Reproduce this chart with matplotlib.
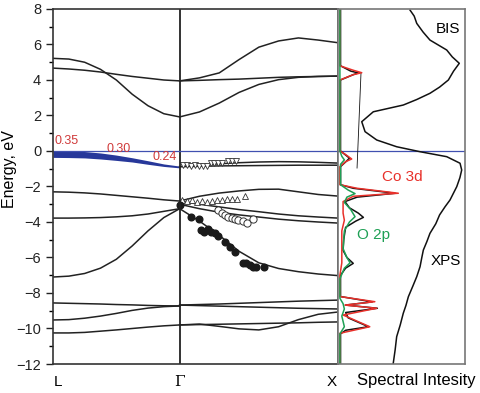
import numpy as np
import matplotlib
matplotlib.use("Agg")
from matplotlib import pyplot as plt

plt.rcParams['font.family'] = ['Liberation Sans', 'DejaVu Sans']

# k-path: L -> Gamma -> X
k_L, k_G, k_X = 0.0, 0.8, 1.8
t = np.linspace(0, 1, 9)

# bands along L-Gamma (energies in eV at the 9 grid points)
bands_LG = [
    [5.22, 5.18, 5.0, 4.6, 4.0, 3.2, 2.55, 2.1, 1.92],
    [4.67, 4.62, 4.55, 4.45, 4.32, 4.2, 4.1, 4.0, 3.95],
    [-2.3, -2.32, -2.36, -2.42, -2.5, -2.58, -2.66, -2.75, -2.82],
    [-3.78, -3.78, -3.77, -3.75, -3.71, -3.65, -3.55, -3.4, -3.25],
    [-7.1, -7.05, -6.9, -6.6, -6.1, -5.35, -4.5, -3.75, -3.25],
    [-8.56, -8.58, -8.6, -8.62, -8.65, -8.67, -8.7, -8.72, -8.73],
    [-9.52, -9.5, -9.42, -9.3, -9.15, -8.98, -8.85, -8.77, -8.73],
    [-10.25, -10.25, -10.22, -10.15, -10.08, -10.0, -9.92, -9.85, -9.8],
]
# weighted top valence band (L-Gamma)
blue_center = [-0.17, -0.18, -0.21, -0.28, -0.38, -0.5, -0.65, -0.8, -0.9]
blue_half = [0.19, 0.19, 0.18, 0.17, 0.15, 0.12, 0.1, 0.07, 0.05]
weight_labels = ['0.35', '0.30', '0.24']
weight_pos = [(0.008, 0.22), (0.34, -0.22), (0.63, -0.66)]

# bands along Gamma-X
bands_GX = [
    [3.95, 4.12, 4.4, 5.15, 5.85, 6.2, 6.37, 6.25, 6.1],
    [3.95, 3.98, 4.02, 4.05, 4.1, 4.15, 4.18, 4.2, 4.22],
    [1.92, 2.2, 2.7, 3.3, 3.75, 4.02, 4.15, 4.2, 4.22],
    [-0.88, -0.8, -0.72, -0.66, -0.62, -0.6, -0.61, -0.64, -0.68],
    [-0.88, -0.86, -0.84, -0.83, -0.82, -0.81, -0.8, -0.8, -0.8],
    [-2.82, -2.55, -2.37, -2.25, -2.16, -2.15, -2.3, -2.45, -2.54],
    [-2.82, -3.0, -3.15, -3.3, -3.42, -3.55, -3.65, -3.72, -3.78],
    [-3.0, -3.25, -3.45, -3.6, -3.72, -3.84, -3.93, -4.0, -4.06],
    [-3.25, -3.95, -4.75, -5.65, -6.3, -6.62, -6.8, -6.93, -7.02],
    [-8.68, -8.65, -8.62, -8.58, -8.54, -8.5, -8.46, -8.43, -8.4],
    [-8.68, -8.71, -8.74, -8.77, -8.8, -8.83, -8.86, -8.88, -8.9],
    [-9.8, -9.75, -9.88, -10.02, -10.08, -9.9, -9.5, -9.2, -9.07],
    [-9.8, -9.78, -9.76, -9.74, -9.72, -9.7, -9.68, -9.65, -9.63],
]

# ARPES points
tri_down_k = [0.819, 0.844, 0.870, 0.895, 0.920, 0.946, 0.971, 0.996, 1.015,
              1.041, 1.066, 1.104, 1.129, 1.154]
tri_down_E = [-0.8, -0.8, -0.82, -0.8, -0.84, -0.84, -0.82, -0.68, -0.66,
              -0.68, -0.66, -0.56, -0.58, -0.56]
tri_up_k = [0.813, 0.844, 0.876, 0.908, 0.939, 0.971, 1.003, 1.034, 1.066,
            1.097, 1.129, 1.161, 1.211]
tri_up_E = [-2.78, -2.8, -2.76, -2.86, -2.82, -2.86, -2.82, -2.76, -2.76,
            -2.7, -2.7, -2.7, -2.52]
open_k = [1.041, 1.066, 1.085, 1.104, 1.129, 1.148, 1.167, 1.199, 1.224, 1.262]
open_E = [-3.32, -3.47, -3.6, -3.73, -3.78, -3.84, -3.89, -3.93, -4.04, -3.84]
full_k = [0.804, 0.874, 0.922, 0.937, 0.952, 0.979, 1.001, 1.022, 1.042,
          1.085, 1.116, 1.148, 1.201, 1.222, 1.243, 1.264, 1.285, 1.332]
full_E = [-3.04, -3.74, -3.85, -4.45, -4.55, -4.41, -4.55, -4.64, -4.79,
          -5.11, -5.39, -5.67, -6.29, -6.33, -6.42, -6.52, -6.55, -6.52]

# spectral panel: (energy, intensity fraction)
tot_E = [8, 4.8, 4.5, 4.4, 4.3, 4.0, 0.0, -0.4, -0.55, -0.88, -1.9, -2.1, -2.38,
         -2.6, -2.85, -3.2, -3.5, -3.74, -3.95, -4.3, -5.0, -5.6, -6.0, -6.33,
         -6.6, -7.0, -8.2, -8.5, -8.68, -8.86, -9.1, -9.4, -9.9, -10.1, -10.3, -12]
tot_I = [0.02, 0.02, 0.1, 0.16, 0.12, 0.02, 0.02, 0.09, 0.07, 0.02, 0.02, 0.12,
         0.45, 0.15, 0.055, 0.09, 0.16, 0.2, 0.14, 0.06, 0.045, 0.04, 0.07, 0.12,
         0.06, 0.02, 0.02, 0.27, 0.06, 0.31, 0.06, 0.08, 0.24, 0.06, 0.02, 0.02]
co_E = [8, 4.8, 4.55, 4.41, 4.3, 4.0, 0, -0.2, -0.45, -0.6, -0.88, -1.9, -2.1,
        -2.38, -2.55, -2.85, -3.5, -3.9, -4.5, -6.3, -7, -8.2, -8.49, -8.68,
        -8.86, -9.24, -9.9, -10.27, -12]
co_I = [0.015, 0.015, 0.12, 0.187, 0.12, 0.015, 0.015, 0.06, 0.108, 0.06, 0.015,
        0.015, 0.15, 0.475, 0.12, 0.04, 0.04, 0.05, 0.03, 0.03, 0.015, 0.015,
        0.29, 0.055, 0.305, 0.04, 0.25, 0.015, 0.015]
o_E = [8, 0, -0.3, -0.5, -0.75, -1.9, -2.2, -2.4, -2.6, -2.9, -3.3, -3.7, -4.0,
       -4.5, -5.5, -6.0, -6.3, -6.6, -7.2, -8.3, -8.6, -8.9, -9.3, -9.9, -10.3, -12]
o_I = [0.015, 0.015, 0.03, 0.05, 0.02, 0.02, 0.08, 0.134, 0.07, 0.05, 0.1, 0.134,
       0.09, 0.05, 0.04, 0.07, 0.095, 0.05, 0.015, 0.015, 0.04, 0.05, 0.03, 0.05,
       0.015, 0.015]
exp_E = [7.94, 7.6, 7.19, 6.7, 6.25, 5.69, 5.3, 4.94, 4.5, 4.0, 3.6, 3.25, 2.9,
         2.59, 2.21, 1.65, 1.09, 0.62, 0.24, -0.04, -0.32, -0.69, -1.07, -1.5,
         -2.01, -2.76, -3.14, -3.6, -4.1, -4.64, -5.1, -5.58, -6.0, -6.52, -7.08,
         -7.6, -8.21, -8.7, -9.14, -9.8, -10.46, -11.2, -11.96]
exp_I = [0.567, 0.6, 0.62, 0.67, 0.724, 0.856, 0.9, 0.955, 0.91, 0.869, 0.8,
         0.724, 0.62, 0.514, 0.278, 0.187, 0.213, 0.305, 0.462, 0.646, 0.856,
         0.961, 0.974, 0.96, 0.935, 0.882, 0.843, 0.8, 0.77, 0.724, 0.7, 0.672,
         0.66, 0.646, 0.62, 0.59, 0.554, 0.535, 0.514, 0.49, 0.462, 0.45, 0.435]
thin_E = [4.39, -0.96]
thin_I = [0.181, 0.15]

red = '#e8302a'
green = '#1fa055'
navy = '#27389a'

fig = plt.figure(figsize=(4.81, 3.93), dpi=100)
ax = fig.add_axes([53/481, 1-364/393, 285/481, 355/393])
ax2 = fig.add_axes([338/481, 1-364/393, 127/481, 355/393])

k_LG = k_L + t*(k_G - k_L)
k_GX = k_G + t*(k_X - k_G)
for b in bands_LG:
    ax.plot(k_LG, b, color='#222222', lw=1.1)
for b in bands_GX:
    ax.plot(k_GX, b, color='#222222', lw=1.1)

c = np.array(blue_center)
h = np.array(blue_half)
ax.fill_between(k_LG, c - h, c + h, color=navy, lw=0)
for lab, (x, y) in zip(weight_labels, weight_pos):
    ax.text(x, y, lab, color='#d03a3a', fontsize=9, va='bottom', ha='left')

ax.plot(tri_down_k, tri_down_E, 'v', ms=4, mfc='white', mec='#333333', mew=0.6)
ax.plot(tri_up_k, tri_up_E, '^', ms=5, mfc='white', mec='#333333', mew=0.6)
ax.plot(open_k, open_E, 'o', ms=5.2, mfc='white', mec='#333333', mew=0.7)
ax.plot(full_k, full_E, 'o', ms=4.8, color='#1a1a1a')

ax.axvline(k_G, color='#222222', lw=1.3)
ax.axhline(0, color='#4050b0', lw=0.9)
ax.set_xlim(k_L, k_X)
ax.set_ylim(-12, 8)
ax.set_yticks(np.arange(-12, 9, 2))
ax.set_yticks(np.arange(-11, 8, 2), minor=True)
ax.tick_params(axis='y', which='major', length=5, width=1, labelsize=10.5, colors='#222222')
ax.tick_params(axis='y', which='minor', length=3, width=1)
ax.set_xticks([k_L + 0.03, k_G, k_X - 0.04])
ax.set_xticklabels(['L', 'Γ', 'X'], fontsize=11)
ax.get_xticklabels()[1].set_family('DejaVu Serif')
ax.tick_params(axis='x', length=0, pad=8)
ax.set_ylabel('Energy, eV', fontsize=11.5)
ax.yaxis.set_label_coords(-0.125, 0.55)
for s in ax.spines.values():
    s.set_color('#333333')
    s.set_linewidth(1.2)

ax2.axhline(0, color='#4050b0', lw=0.9)
ax2.plot(exp_I, exp_E, color='#111111', lw=1.1)
ax2.plot(thin_I, thin_E, color='#111111', lw=0.6)
ax2.plot(tot_I, tot_E, color='#111111', lw=1.1)
ax2.plot(co_I, co_E, color=red, lw=1.1)
ax2.plot(o_I, o_E, color=green, lw=1.1)
ax2.set_xlim(0, 1)
ax2.set_ylim(-12, 8)
ax2.set_xticks([])
ax2.set_yticks([])
for s in ax2.spines.values():
    s.set_color('#777777')
    s.set_linewidth(1.2)
ax2.text(0.96, 6.9, 'BIS', fontsize=11, ha='right', va='center')
ax2.text(0.35, -1.45, 'Co 3d', fontsize=11, ha='left', va='center', color=red)
ax2.text(0.15, -4.75, 'O 2p', fontsize=11, ha='left', va='center', color=green)
ax2.text(0.97, -6.2, 'XPS', fontsize=11, ha='right', va='center')
fig.text(416/481, 1-381/393, 'Spectral Intesity', fontsize=12, ha='center', va='center')

fig.savefig('out.png', dpi=100)
